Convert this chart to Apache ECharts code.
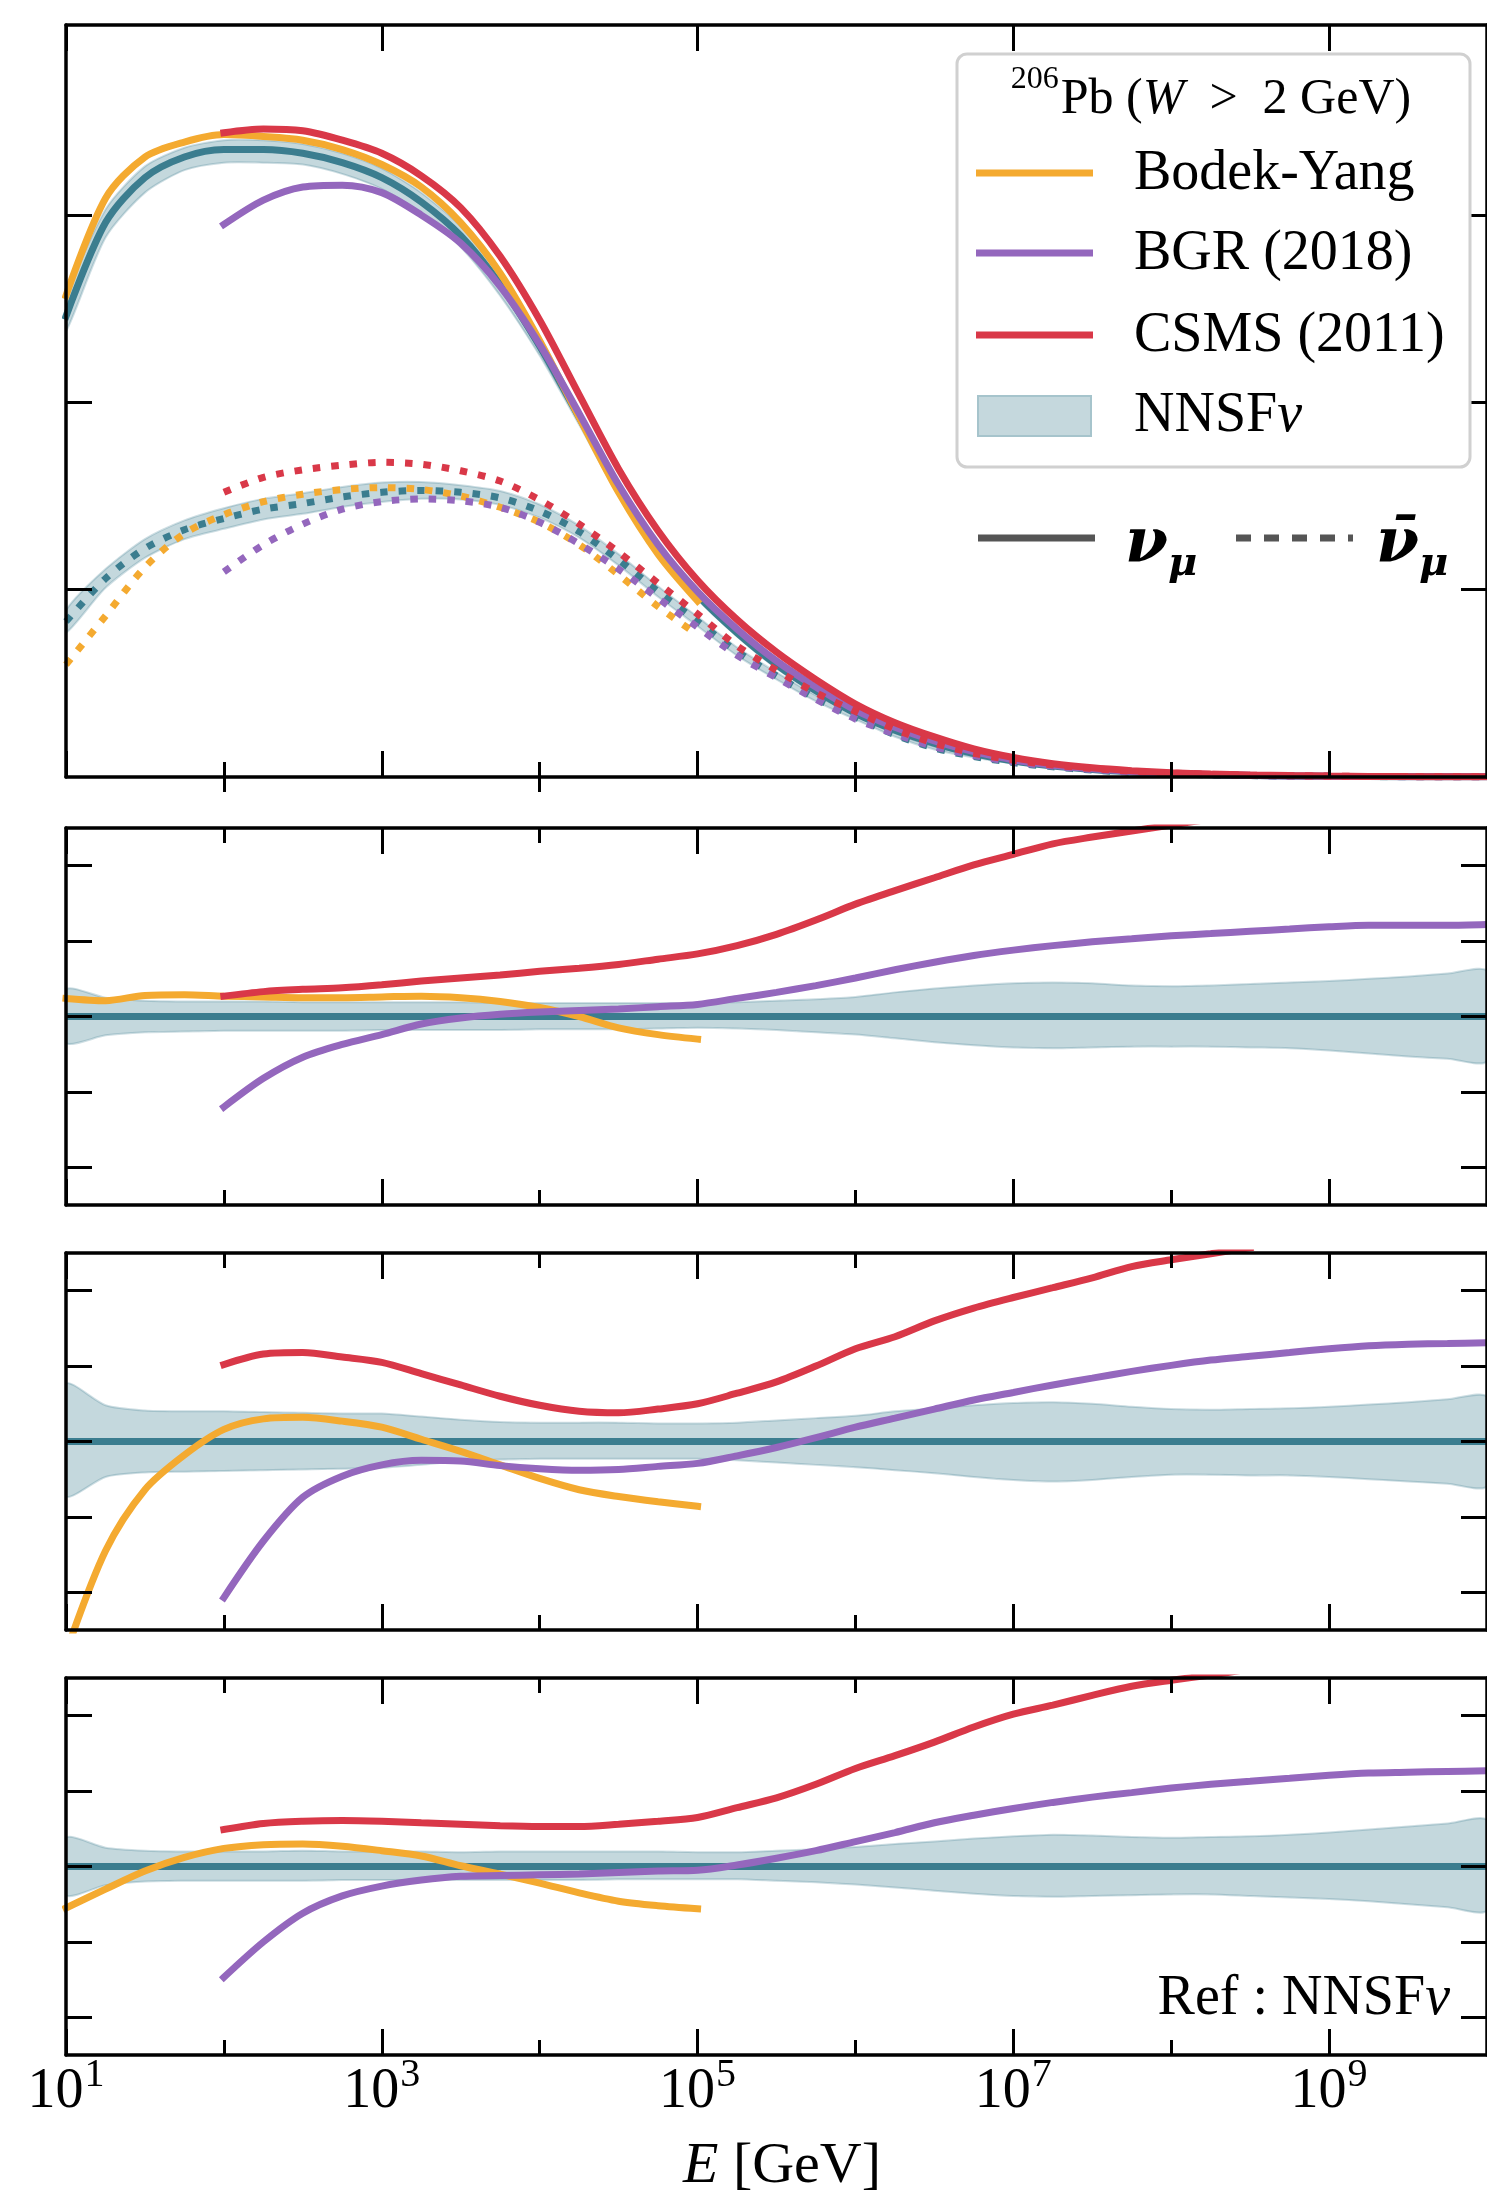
<!DOCTYPE html>
<html>
<head>
<meta charset="utf-8">
<script src="https://cdn.jsdelivr.net/npm/echarts@6/dist/echarts.min.js"></script>
<style>
  html, body { margin: 0; padding: 0; background: #fff; }
  #chart { width: 1487px; height: 2204px; }
</style>
</head>
<body>
<div id="chart"></div>
<script>
// Neutrino energy grid [GeV], quarter-decade steps from 10 GeV to 10^10 GeV
const energy = [1e1, 1.78e1, 3.16e1, 5.62e1, 1e2, 1.78e2, 3.16e2, 5.62e2, 1e3, 1.78e3, 3.16e3, 5.62e3,
  1e4, 1.78e4, 3.16e4, 5.62e4, 1e5, 1.78e5, 3.16e5, 5.62e5, 1e6, 1.78e6, 3.16e6, 5.62e6,
  1e7, 1.78e7, 3.16e7, 5.62e7, 1e8, 1.78e8, 3.16e8, 5.62e8, 1e9, 1.78e9, 3.16e9, 5.62e9, 1e10];

// Tick positions
const xTicksMajor = [1e1, 1e3, 1e5, 1e7, 1e9];
const xTicksMinor = [1e2, 1e4, 1e6, 1e8];
const yTicksTop = [1, 2, 3];
const yTicksRatio = [0.8, 0.9, 1.0, 1.1, 1.2];

// ---- Top panel: cross sections, nu_mu (solid) ----
const nuNNSF   = [2.46, 2.96, 3.20, 3.31, 3.35, 3.35, 3.33, 3.28, 3.20, 3.07, 2.89, 2.63, 2.30, 1.92, 1.54, 1.22, 0.97, 0.77, 0.60, 0.46, 0.34, 0.25, 0.18, 0.125, 0.085, 0.058, 0.040, 0.027, 0.018, 0.012, 0.008, 0.0053, 0.0035, 0.0023, 0.0015, 0.0010, 0.0007];
const nuNNSFHi = [2.55, 3.03, 3.26, 3.36, 3.40, 3.40, 3.38, 3.33, 3.25, 3.12, 2.94, 2.68, 2.35, 1.96, 1.58, 1.25, 0.99, 0.79, 0.62, 0.475, 0.35, 0.26, 0.19, 0.13, 0.09, 0.061, 0.042, 0.029, 0.019, 0.013, 0.0085, 0.0057, 0.0038, 0.0025, 0.0016, 0.0011, 0.0008];
const nuNNSFLo = [2.38, 2.88, 3.12, 3.24, 3.28, 3.28, 3.27, 3.22, 3.14, 3.01, 2.83, 2.57, 2.25, 1.88, 1.50, 1.19, 0.95, 0.75, 0.58, 0.445, 0.33, 0.24, 0.17, 0.12, 0.08, 0.055, 0.038, 0.025, 0.017, 0.011, 0.0075, 0.005, 0.0032, 0.0021, 0.0014, 0.0009, 0.0006];
const nuBY   = [2.57, 3.09, 3.31, 3.39, 3.43, 3.42, 3.40, 3.35, 3.27, 3.15, 2.96, 2.69, 2.33, 1.92, 1.52, 1.19, 0.94,
  null, null, null, null, null, null, null, null, null, null, null, null, null, null, null, null, null, null, null, null];
const nuBGR  = [null, null, null, null, 2.95, 3.08, 3.15, 3.16, 3.12, 3.00, 2.85, 2.62, 2.31, 1.94, 1.56, 1.24, 0.99, 0.79, 0.62, 0.48, 0.357, 0.266, 0.193, 0.135, 0.092, 0.063, 0.044, 0.030, 0.020, 0.0133, 0.0089, 0.006, 0.0039, 0.0026, 0.0017, 0.0011, 0.0008];
const nuCSMS = [null, null, null, null, 3.44, 3.46, 3.45, 3.40, 3.33, 3.21, 3.04, 2.78, 2.44, 2.04, 1.645, 1.315, 1.05, 0.84, 0.667, 0.52, 0.39, 0.29, 0.214, 0.15, 0.104, 0.071, 0.049, 0.034, 0.023, 0.016, 0.011, 0.0074, 0.005, 0.0033, 0.0022, 0.0015, 0.001];

// ---- Top panel: cross sections, anti-nu_mu (dotted) ----
const nubNNSF   = [0.83, 1.06, 1.22, 1.32, 1.38, 1.43, 1.46, 1.495, 1.52, 1.53, 1.52, 1.49, 1.42, 1.31, 1.16, 0.99, 0.83, 0.67, 0.54, 0.42, 0.32, 0.225, 0.155, 0.11, 0.077, 0.054, 0.037, 0.025, 0.017, 0.0115, 0.0077, 0.0051, 0.0034, 0.0022, 0.0015, 0.0010, 0.0007];
const nubNNSFHi = [0.89, 1.11, 1.27, 1.37, 1.435, 1.485, 1.515, 1.548, 1.572, 1.575, 1.558, 1.527, 1.455, 1.342, 1.19, 1.018, 0.855, 0.692, 0.559, 0.436, 0.333, 0.235, 0.163, 0.116, 0.081, 0.057, 0.039, 0.0265, 0.018, 0.0122, 0.0082, 0.0054, 0.0036, 0.0023, 0.0016, 0.0011, 0.00075];
const nubNNSFLo = [0.77, 1.01, 1.17, 1.27, 1.325, 1.375, 1.405, 1.442, 1.468, 1.485, 1.482, 1.453, 1.385, 1.278, 1.13, 0.962, 0.805, 0.648, 0.521, 0.404, 0.307, 0.215, 0.147, 0.104, 0.073, 0.051, 0.035, 0.0235, 0.016, 0.0108, 0.0072, 0.0048, 0.0032, 0.0021, 0.0014, 0.0009, 0.00065];
const nubBY   = [0.60, 0.86, 1.12, 1.30, 1.40, 1.47, 1.51, 1.535, 1.545, 1.535, 1.50, 1.44, 1.36, 1.24, 1.08, 0.91, 0.76,
  null, null, null, null, null, null, null, null, null, null, null, null, null, null, null, null, null, null, null, null];
const nubBGR  = [null, null, null, null, 1.095, 1.24, 1.35, 1.43, 1.47, 1.485, 1.475, 1.44, 1.36, 1.245, 1.11, 0.955, 0.80, 0.65, 0.53, 0.415, 0.31, 0.23, 0.162, 0.115, 0.081, 0.058, 0.040, 0.028, 0.018, 0.0125, 0.0085, 0.0057, 0.0038, 0.0025, 0.0017, 0.0011, 0.0008];
const nubCSMS = [null, null, null, null, 1.52, 1.60, 1.64, 1.665, 1.68, 1.67, 1.635, 1.58, 1.48, 1.35, 1.20, 1.035, 0.87, 0.70, 0.57, 0.45, 0.35, 0.255, 0.18, 0.127, 0.09, 0.064, 0.045, 0.031, 0.021, 0.0145, 0.0098, 0.0066, 0.0045, 0.003, 0.002, 0.0014, 0.001];

// ---- Ratio panel 1 (nu_mu / NNSFnu) ----
const r1Hi = [1.036, 1.025, 1.021, 1.020, 1.020, 1.020, 1.019, 1.019, 1.019, 1.019, 1.019, 1.018, 1.018, 1.018, 1.018, 1.018, 1.018, 1.019, 1.021, 1.023, 1.026, 1.032, 1.037, 1.041, 1.044, 1.045, 1.044, 1.041, 1.040, 1.041, 1.043, 1.045, 1.047, 1.050, 1.053, 1.057, 1.060];
const r1Lo = [0.965, 0.975, 0.979, 0.980, 0.981, 0.981, 0.981, 0.981, 0.982, 0.982, 0.982, 0.982, 0.983, 0.983, 0.983, 0.984, 0.985, 0.984, 0.982, 0.979, 0.976, 0.971, 0.966, 0.962, 0.959, 0.958, 0.959, 0.960, 0.960, 0.960, 0.959, 0.958, 0.955, 0.951, 0.947, 0.944, 0.941];
const r1BY = [1.024, 1.021, 1.028, 1.029, 1.027, 1.026, 1.025, 1.025, 1.026, 1.027, 1.025, 1.020, 1.012, 1.000, 0.985, 0.976, 0.970,
  null, null, null, null, null, null, null, null, null, null, null, null, null, null, null, null, null, null, null, null];
const r1BGR = [null, null, null, null, 0.880, 0.918, 0.946, 0.963, 0.976, 0.990, 0.998, 1.003, 1.006, 1.008, 1.010, 1.013, 1.016, 1.024, 1.032, 1.041, 1.051, 1.062, 1.072, 1.081, 1.088, 1.094, 1.099, 1.103, 1.107, 1.110, 1.113, 1.116, 1.119, 1.121, 1.121, 1.121, 1.122];
const r1CSMS = [null, null, null, null, 1.027, 1.033, 1.036, 1.038, 1.042, 1.047, 1.051, 1.055, 1.060, 1.064, 1.069, 1.076, 1.083, 1.094, 1.109, 1.128, 1.149, 1.167, 1.184, 1.201, 1.215, 1.229, 1.238, 1.246, 1.254, 1.262,
  null, null, null, null, null, null, null];

// ---- Ratio panel 2 (anti-nu_mu / NNSFnu) ----
const r2Hi = [1.076, 1.048, 1.041, 1.040, 1.040, 1.039, 1.038, 1.037, 1.037, 1.033, 1.029, 1.026, 1.025, 1.025, 1.025, 1.024, 1.024, 1.025, 1.028, 1.031, 1.034, 1.040, 1.044, 1.048, 1.051, 1.052, 1.050, 1.046, 1.043, 1.042, 1.043, 1.044, 1.046, 1.049, 1.052, 1.056, 1.059];
const r2Lo = [0.928, 0.953, 0.959, 0.960, 0.961, 0.962, 0.963, 0.964, 0.965, 0.969, 0.974, 0.976, 0.977, 0.977, 0.977, 0.977, 0.977, 0.975, 0.972, 0.969, 0.966, 0.962, 0.958, 0.953, 0.949, 0.947, 0.949, 0.953, 0.956, 0.956, 0.955, 0.955, 0.953, 0.950, 0.947, 0.944, 0.941];
const r2BY = [0.72, 0.855, 0.936, 0.982, 1.016, 1.030, 1.032, 1.027, 1.019, 1.003, 0.987, 0.969, 0.951, 0.936, 0.927, 0.920, 0.914,
  null, null, null, null, null, null, null, null, null, null, null, null, null, null, null, null, null, null, null, null];
const r2BGR = [null, null, null, null, 0.793, 0.868, 0.926, 0.954, 0.969, 0.975, 0.974, 0.968, 0.964, 0.962, 0.963, 0.967, 0.971, 0.981, 0.992, 1.005, 1.019, 1.031, 1.043, 1.055, 1.065, 1.075, 1.084, 1.093, 1.101, 1.108, 1.113, 1.118, 1.123, 1.127, 1.129, 1.130, 1.131];
const r2CSMS = [null, null, null, null, 1.102, 1.116, 1.118, 1.112, 1.105, 1.090, 1.075, 1.060, 1.048, 1.040, 1.038, 1.043, 1.050, 1.064, 1.079, 1.100, 1.123, 1.139, 1.160, 1.177, 1.191, 1.204, 1.217, 1.232, 1.241, 1.249, 1.257,
  null, null, null, null, null, null];

// ---- Ratio panel 3 ----
const r3Hi = [1.038, 1.025, 1.021, 1.020, 1.020, 1.020, 1.021, 1.020, 1.020, 1.020, 1.019, 1.020, 1.020, 1.020, 1.020, 1.020, 1.019, 1.019, 1.021, 1.023, 1.026, 1.030, 1.033, 1.037, 1.040, 1.042, 1.041, 1.039, 1.038, 1.039, 1.040, 1.042, 1.045, 1.049, 1.053, 1.057, 1.061];
const r3Lo = [0.962, 0.975, 0.980, 0.981, 0.981, 0.981, 0.981, 0.982, 0.982, 0.982, 0.982, 0.982, 0.982, 0.982, 0.983, 0.983, 0.983, 0.983, 0.981, 0.979, 0.976, 0.972, 0.968, 0.964, 0.961, 0.960, 0.961, 0.962, 0.963, 0.963, 0.961, 0.959, 0.957, 0.954, 0.950, 0.946, 0.942];
const r3BY = [0.945, 0.970, 0.994, 1.012, 1.024, 1.029, 1.030, 1.027, 1.021, 1.014, 1.001, 0.990, 0.978, 0.965, 0.954, 0.948, 0.944,
  null, null, null, null, null, null, null, null, null, null, null, null, null, null, null, null, null, null, null, null];
const r3BGR = [null, null, null, null, 0.853, 0.900, 0.938, 0.961, 0.974, 0.982, 0.987, 0.988, 0.989, 0.990, 0.992, 0.994, 0.995, 1.002, 1.011, 1.021, 1.033, 1.045, 1.058, 1.068, 1.077, 1.085, 1.092, 1.098, 1.104, 1.109, 1.113, 1.117, 1.121, 1.124, 1.125, 1.126, 1.127];
const r3CSMS = [null, null, null, null, 1.049, 1.057, 1.060, 1.061, 1.060, 1.058, 1.056, 1.054, 1.053, 1.053, 1.056, 1.060, 1.065, 1.078, 1.091, 1.109, 1.130, 1.147, 1.165, 1.185, 1.202, 1.214, 1.227, 1.239, 1.247, 1.254, 1.262,
  null, null, null, null, null, null];

// Reference line of the ratio panels (NNSFnu / NNSFnu)
const unity = [[1e1, 1], [1e10, 1]];

// ---- Styling ----
const FONT = 'Liberation Serif';
const ORANGE = '#f4aa30';
const PURPLE = '#9467bd';
const RED = '#d93848';
const TEAL = '#3b7d8f';
const BAND_FILL = 'rgba(59,125,143,0.30)';
const BAND_EDGE = 'rgba(59,125,143,0.25)';
const LW = 7;

const pairs = arr => energy.map((e, i) => [e, arr[i]]).filter(p => p[1] != null);

function curve(g, values, color, dotted, z) {
  return {
    type: 'line', xAxisIndex: g * 4, yAxisIndex: g * 2,
    data: pairs(values), showSymbol: false, symbol: 'none',
    smooth: 0.3, z, silent: true, animation: false,
    lineStyle: { color, width: LW, type: dotted ? [7.5, 11] : 'solid', cap: dotted ? 'butt' : 'square' }
  };
}

function band(g, lo, hi, z) {
  return {
    type: 'custom', xAxisIndex: g * 4, yAxisIndex: g * 2, clip: true, z, silent: true,
    data: [[energy[0], lo[0]]], encode: { x: 0, y: 1 },
    renderItem: (params, api) => {
      const pts = [];
      energy.forEach((e, i) => pts.push(api.coord([e, hi[i]])));
      for (let i = energy.length - 1; i >= 0; i--) pts.push(api.coord([energy[i], lo[i]]));
      return { type: 'polygon', shape: { points: pts, smooth: 0.25 },
        style: { fill: BAND_FILL, stroke: BAND_EDGE, lineWidth: 2 } };
    }
  };
}

const grids = [
  { left: 66, right: -9, top: 25, height: 752 },
  { left: 66, right: -9, top: 828, height: 377 },
  { left: 66, right: -9, top: 1253, height: 377 },
  { left: 66, right: -9, top: 1678, height: 377 }
];

const spine = { show: true, onZero: false, lineStyle: { color: '#000', width: 3.5 } };
const tickStyle = { color: '#000', width: 3 };

function xAxesFor(g) {
  const base = { gridIndex: g, type: 'log', logBase: 10, min: 1e1, max: 1e10, z: 10,
    splitLine: { show: false }, axisLabel: { show: false } };
  const labels = g === 3 ? {
    show: true, customValues: xTicksMajor, margin: 12, color: '#000',
    formatter: v => '{b|10}{s|' + Math.round(Math.log10(v)) + '}',
    rich: {
      b: { fontSize: 56, fontFamily: FONT, color: '#000', lineHeight: 50 },
      // exponent raised above the base
      s: { fontSize: 40, fontFamily: FONT, color: '#000', lineHeight: 16, padding: [0, 0, 34, 1] }
    }
  } : { show: false };
  return [
    Object.assign({}, base, { position: 'bottom', axisLine: spine,
      axisTick: { show: true, inside: true, length: 26, customValues: xTicksMajor, lineStyle: tickStyle },
      axisLabel: labels }),
    Object.assign({}, base, { position: 'bottom', axisLine: { show: false },
      axisTick: { show: true, inside: true, length: 15, customValues: xTicksMinor, lineStyle: tickStyle } }),
    Object.assign({}, base, { position: 'top', axisLine: spine,
      axisTick: { show: true, inside: true, length: 26, customValues: xTicksMajor, lineStyle: tickStyle } }),
    Object.assign({}, base, { position: 'top', axisLine: { show: false },
      axisTick: { show: true, inside: true, length: 15, customValues: xTicksMinor, lineStyle: tickStyle } })
  ];
}

function yAxesFor(g, min, max, ticks) {
  const base = { gridIndex: g, type: 'value', min, max, z: 10,
    splitLine: { show: false }, axisLabel: { show: false }, axisLine: spine,
    axisTick: { show: true, inside: true, length: 26, customValues: ticks, lineStyle: tickStyle } };
  return [Object.assign({}, base, { position: 'left' }), Object.assign({}, base, { position: 'right' })];
}

const xAxis = [].concat(xAxesFor(0), xAxesFor(1), xAxesFor(2), xAxesFor(3));
const yAxis = [].concat(
  yAxesFor(0, 0, 4.015, yTicksTop),
  yAxesFor(1, 0.75, 1.25, yTicksRatio),
  yAxesFor(2, 0.75, 1.25, yTicksRatio),
  yAxesFor(3, 0.75, 1.25, yTicksRatio)
);

const refLine = g => ({
  type: 'line', xAxisIndex: g * 4, yAxisIndex: g * 2, data: unity, showSymbol: false,
  symbol: 'none', z: 3, silent: true, lineStyle: { color: TEAL, width: LW }
});

const series = [
  // top panel
  band(0, nuNNSFLo, nuNNSFHi, 1),
  band(0, nubNNSFLo, nubNNSFHi, 1),
  curve(0, nuNNSF, TEAL, false, 3),
  curve(0, nubNNSF, TEAL, true, 3),
  curve(0, nuBY, ORANGE, false, 4),
  curve(0, nubBY, ORANGE, true, 4),
  curve(0, nuBGR, PURPLE, false, 5),
  curve(0, nubBGR, PURPLE, true, 5),
  curve(0, nuCSMS, RED, false, 6),
  curve(0, nubCSMS, RED, true, 6),
  // ratio panels
  band(1, r1Lo, r1Hi, 1), refLine(1),
  curve(1, r1BY, ORANGE, false, 4), curve(1, r1BGR, PURPLE, false, 5), curve(1, r1CSMS, RED, false, 6),
  band(2, r2Lo, r2Hi, 1), refLine(2),
  curve(2, r2BY, ORANGE, false, 4), curve(2, r2BGR, PURPLE, false, 5), curve(2, r2CSMS, RED, false, 6),
  band(3, r3Lo, r3Hi, 1), refLine(3),
  curve(3, r3BY, ORANGE, false, 4), curve(3, r3BGR, PURPLE, false, 5), curve(3, r3CSMS, RED, false, 6)
];

// Legend, annotations and axis title
const txt = (x, y, text, rich, align) => ({
  type: 'text', x, y, z: 101, silent: true,
  style: { text, rich, align: align || 'left', verticalAlign: 'middle',
    textAlign: align || 'left', textVerticalAlign: 'middle', fill: '#000' }
});
const serif = (size, extra) => Object.assign({ fontSize: size, fontFamily: FONT, color: '#000', fill: '#000' }, extra || {});
const legendLine = (y, color) => ({ type: 'line', z: 101, silent: true,
  shape: { x1: 976, y1: y, x2: 1093, y2: y }, style: { stroke: color, lineWidth: LW } });
const greek = (size, extra) => Object.assign({ fontSize: size, fontFamily: 'DejaVu Serif', fontStyle: 'italic',
  fontWeight: 'bold', color: '#000', fill: '#000' }, extra || {});

const graphic = { elements: [
  { type: 'rect', z: 100, silent: true, shape: { x: 957, y: 54, width: 513, height: 413, r: 10 },
    style: { fill: '#fff', stroke: '#d0d0d0', lineWidth: 3 } },
  txt(1211, 100, '{s|206}{n|Pb (}{i|W}{n|\u2002>\u20022 GeV)}', {
    s: serif(32, { lineHeight: 14, padding: [0, 2, 40, 0] }),
    n: serif(50, { lineHeight: 54 }),
    i: serif(50, { fontStyle: 'italic', lineHeight: 54 })
  }, 'center'),
  legendLine(173, ORANGE), txt(1134, 174, '{n|Bodek-Yang}', { n: serif(56) }),
  legendLine(253, PURPLE), txt(1134, 254, '{n|BGR (2018)}', { n: serif(56) }),
  legendLine(335, RED),    txt(1134, 336, '{n|CSMS (2011)}', { n: serif(56) }),
  { type: 'rect', z: 101, silent: true, shape: { x: 978, y: 396, width: 113, height: 40 },
    style: { fill: '#c5d8dd', stroke: '#a6c4cc', lineWidth: 2 } },
  txt(1134, 416, '{n|NNSF}{i|ν}', { n: serif(56), i: serif(56, { fontStyle: 'italic' }) }),
  // neutrino / antineutrino line-style key
  { type: 'line', z: 101, silent: true, shape: { x1: 978, y1: 538, x2: 1095, y2: 538 },
    style: { stroke: '#555', lineWidth: LW } },
  { type: 'line', z: 101, silent: true, shape: { x1: 1236, y1: 538, x2: 1353, y2: 538 },
    style: { stroke: '#555', lineWidth: LW, lineDash: [15, 13] } },
  txt(1125, 545, '{v|ν}{m|μ}', {
    v: greek(62, { lineHeight: 62 }),
    m: greek(40, { lineHeight: 24, padding: [40, 0, 0, 0] })
  }),
  txt(1376, 545, '{v|ν\u0304}{m|μ}', {
    v: greek(62, { lineHeight: 62 }),
    m: greek(40, { lineHeight: 24, padding: [40, 0, 0, 0] })
  }),
  // reference label in the bottom panel
  txt(1450, 1999, '{n|Ref : NNSF}{i|ν}', { n: serif(56), i: serif(56, { fontStyle: 'italic' }) }, 'right'),
  // x-axis title
  txt(782, 2167, '{i|E}{n| [GeV]}', { i: serif(58, { fontStyle: 'italic' }), n: serif(58) }, 'center')
] };

const chart = echarts.init(document.getElementById('chart'), null, { renderer: 'canvas' });
chart.setOption({
  backgroundColor: '#fff',
  animation: false,
  grid: grids,
  xAxis,
  yAxis,
  series,
  graphic
});
</script>
</body>
</html>
